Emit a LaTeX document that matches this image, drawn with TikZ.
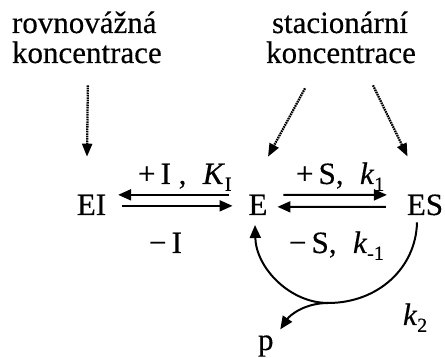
\documentclass[tikz,border=0pt]{standalone}
\usepackage{fontspec}
\setmainfont{Liberation Serif}[FakeBold=0.35]
\usetikzlibrary{arrows.meta,calc}
\newcommand\mysub[1]{\raisebox{-0.22em}{\fontsize{20}{20}\selectfont #1}}
\begin{document}
\begin{tikzpicture}[x=1pt,y=-1pt,
  every node/.style={inner sep=0pt, outer sep=0pt, font=\fontsize{31}{33}\selectfont},
  lbl/.style={anchor=base west},
  ctr/.style={anchor=base},
  arr/.style={line width=2pt, -{Triangle[length=13pt,width=11pt]}},
  dotarr/.style={line width=2.3pt, dash pattern=on 1.6pt off 0.8pt, -{Triangle[length=13pt,width=10pt]}}]
\useasboundingbox (0,0) rectangle (445,358);
% top texts
\node[lbl] (t1) at (12,33) {rovnovážná};
\node[lbl] (t2) at (12,63) {koncentrace};
\node[ctr] (t3) at (340,33) {stacionární};
\node[ctr] (t4) at (341,63) {koncentrace};
% species
\node[ctr] (EI) at (91.5,215) {EI};
\node[ctr] (E) at (258,215) {E};
\node[ctr] (ES) at (425,215) {ES};
\node[lbl] (p) at (258,350) {p};
% labels
\node[lbl] (l1) at (138,184) {+\,I ,\; \textit{K}\mysub{I}};
\node[lbl] (l2) at (296,184) {+\,S,\; \textit{k}\mysub{1}};
\node[lbl] (l3) at (149,253) {−\,I};
\node[lbl] (l4) at (289,253) {−\,S,\; \textit{k}\mysub{-1}};
\node[lbl] (l5) at (403,325) {\textit{k}\mysub{2}};
% dotted arrows
\draw[dotarr] ($(t2.south)+(1,22)$) -- ($(EI.north)+(-4.5,-38)$);
\draw[dotarr] ($(t4.south)+(-36,25)$) -- ($(E.north)+(10,-38)$);
\draw[dotarr] ($(t4.south)+(32,22)$) -- ($(ES.north)+(-17.5,-38)$);
% equilibrium arrows
\draw[arr] ($(E.west)+(-20,-10)$) -- ($(EI.east)+(12,-10)$);
\draw[arr] ($(EI.east)+(16,1)$) -- ($(E.west)+(-16,1)$);
\draw[arr] ($(E.east)+(16,-10)$) -- ($(ES.west)+(-20,-10)$);
\draw[arr] ($(ES.west)+(-21,2)$) -- ($(E.east)+(10,2)$);
% catalytic curve
\coordinate (bot) at (328,303);
\draw[arr] ($(ES.south)+(-8,7)$) .. controls (416,268) and (378,303) .. (bot)
   .. controls (290,303) and (256,268) .. ($(E.south)+(-3,10)$);
\draw[arr] (bot) .. controls (305,303) and (290,315) .. ($(p.north)+(14.5,-6)$);
\end{tikzpicture}
\end{document}
